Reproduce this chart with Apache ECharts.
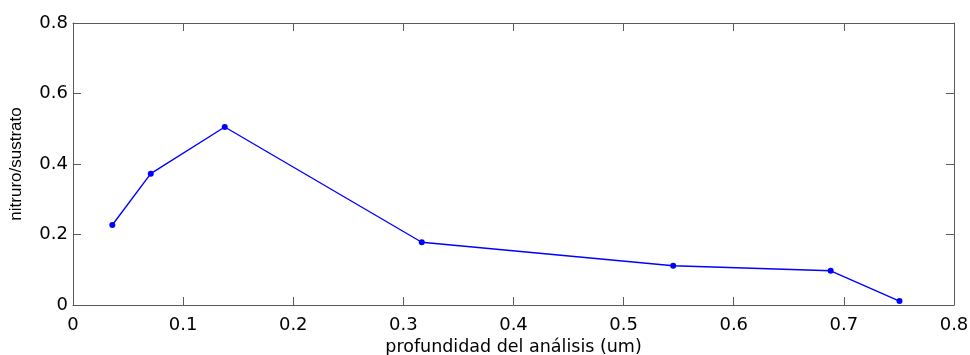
<!DOCTYPE html>
<html>
<head>
<meta charset="utf-8">
<script src="https://cdn.jsdelivr.net/npm/echarts@6/dist/echarts.min.js"></script>
<style>html,body{margin:0;padding:0;background:#fff}#c{width:970px;height:355px}</style>
</head>
<body>
<div id="c"></div>
<script>
const depth = [0.0357, 0.0706, 0.1378, 0.3167, 0.545, 0.688, 0.7505];
const ratio = [0.227, 0.3725, 0.505, 0.178, 0.1115, 0.097, 0.011];
const xTicks = [0, 0.1, 0.2, 0.3, 0.4, 0.5, 0.6, 0.7, 0.8];
const yTicks = [0, 0.2, 0.4, 0.6, 0.8];

const axisColor = '#5a5a5a';
const wideFont = 'DejaVu Sans, Arial, sans-serif';
const font = 'Liberation Sans, Arial, sans-serif';
const fmt = v => (v === 0 ? '0' : String(Math.round(v * 10) / 10));

const chart = echarts.init(document.getElementById('c'), null, {renderer: 'canvas'});
const baseAxis = {
  axisLine: {show: true, onZero: false, lineStyle: {color: axisColor, width: 1}},
  axisTick: {show: true, inside: true, length: 8, lineStyle: {color: axisColor}},
  splitLine: {show: false}
};
chart.setOption({
  animation: false,
  grid: {left: 73, right: 16, top: 23, bottom: 50, containLabel: false, outerBoundsMode: 'none'},
  xAxis: [
    Object.assign({}, baseAxis, {
      type: 'value', min: 0, max: 0.8, interval: 0.1, position: 'bottom',
      axisLabel: {color: '#000', fontSize: 18, fontFamily: wideFont, margin: 11, formatter: fmt},
      name: 'profundidad del análisis (um)', nameLocation: 'middle', nameGap: 27,
      nameTextStyle: {color: '#000', fontSize: 17.5, fontFamily: wideFont}
    }),
    Object.assign({}, baseAxis, {
      type: 'value', min: 0, max: 0.8, interval: 0.1, position: 'top',
      axisLabel: {show: false}
    })
  ],
  yAxis: [
    Object.assign({}, baseAxis, {
      type: 'value', min: 0, max: 0.8, interval: 0.2, position: 'left',
      axisLabel: {color: '#000', fontSize: 18, fontFamily: wideFont, margin: 5, formatter: fmt},
      name: 'nitruro/sustrato', nameLocation: 'middle', nameGap: 48,
      nameTextStyle: {color: '#000', fontSize: 17, fontFamily: font}
    }),
    Object.assign({}, baseAxis, {
      type: 'value', min: 0, max: 0.8, interval: 0.2, position: 'right',
      axisLabel: {show: false}
    })
  ],
  series: [{
    type: 'line',
    data: depth.map((d, i) => [d, ratio[i]]),
    symbol: 'circle', symbolSize: 6,
    itemStyle: {color: '#0000ff'},
    lineStyle: {color: '#0000ff', width: 1.4}
  }]
});
</script>
</body>
</html>
